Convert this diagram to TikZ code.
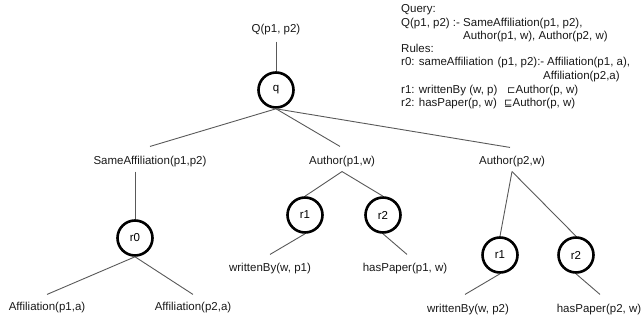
\documentclass[tikz,border=0pt]{standalone}
\usepackage{fontspec}
\setmainfont{Liberation Sans}
\newfontfamily\symfont{DejaVu Sans}
\begin{document}
\begin{tikzpicture}[x=1pt,y=-1pt,
  lbl/.style={font=\fontsize{11.5}{13}\selectfont, inner sep=2pt, text=black!90},
  rule/.style={font=\fontsize{11.5}{13}\selectfont, inner sep=0pt, anchor=base west, text=black!90},
  circ/.style={circle, draw=black, line width=2.6pt, minimum size=35pt, inner sep=0pt, font=\fontsize{11.5}{13}\selectfont},
  edge/.style={draw=black!65, line width=0.9pt}]
\useasboundingbox (0,0) rectangle (642,321);
% tree
\node[lbl] (Q) at (276,30) {Q(p1, p2)};
\node[circ] (q) at (276,90) {q};
\node[lbl] (sa) at (150,162) {SameAffiliation(p1,p2)};
\node[lbl] (a1) at (342,162) {Author(p1,w)};
\node[lbl] (a2) at (512,162) {Author(p2,w)};
\node[circ] (r0) at (135,238) {r0};
\node[lbl] (af1) at (47,308) {Affiliation(p1,a)};
\node[lbl] (af2) at (193,308) {Affiliation(p2,a)};
\node[circ] (r1a) at (305,215) {r1};
\node[circ] (r2a) at (383,215) {r2};
\node[lbl] (wb1) at (270,269) {writtenBy(w, p1)};
\node[lbl] (hp1) at (405,269) {hasPaper(p1, w)};
\node[circ] (r1b) at (500,255) {r1};
\node[circ] (r2b) at (576,255) {r2};
\node[lbl] (wb2) at (468,310) {writtenBy(w, p2)};
\node[lbl] (hp2) at (599,310) {hasPaper(p2, w)};
% connectors
\draw[edge] ([yshift=-4pt]Q.south) -- (q.north);
\draw[edge] (q.south) -- ([yshift=8pt]sa.north);
\draw[edge] (q.south) -- ([xshift=-2pt,yshift=8pt]a1.north);
\draw[edge] (q.south) -- ([xshift=-2pt,yshift=7pt]a2.north);
\draw[edge] ([xshift=-15pt,yshift=-2pt]sa.south) -- (r0.north);
\draw[edge] (r0.south) -- ([yshift=6pt]af1.north);
\draw[edge] (r0.south) -- ([yshift=6pt]af2.north);
\draw[edge] ([yshift=-2pt]a1.south) -- (r1a.north);
\draw[edge] ([yshift=-2pt]a1.south) -- (r2a.north);
\draw[edge] (r1a.south) -- ([yshift=7pt]wb1.north);
\draw[edge] (r2a.south) -- ([xshift=2pt,yshift=7pt]hp1.north);
\draw[edge] ([yshift=-2pt]a2.south) -- (r1b.north);
\draw[edge] ([yshift=-2pt]a2.south) -- (r2b.north);
\draw[edge] (r1b.south) -- ([xshift=-3pt,yshift=8pt]wb2.north);
\draw[edge] (r2b.south) -- ([xshift=1pt,yshift=8pt]hp2.north);
% rules text
\node[rule] (t1) at (401,12.5) {Query:};
\node[rule] (t2) at (401,26.5) {Q(p1, p2) :- SameAffiliation(p1, p2),};
\node[rule] (t3) at (463,39.5) {Author(p1, w), Author(p2, w)};
\node[rule] (t4) at (401,52.5) {Rules:};
\node[rule] (t5) at (401,66) {r0: sameAffiliation\hspace{1pt} (p1, p2):-};
\node[rule] (t5b) at (547,66) {Affiliation(p1, a),};
\node[rule] (t6) at (543,79) {Affiliation(p2,a)};
\node[rule] (t7) at (401,93) {r1: writtenBy (w, p)};
\node[rule] (t7b) at (507,93) {{\symfont\fontsize{10}{12}\selectfont ⊏}Author(p, w)};
\node[rule] (t8) at (401,106) {r2: hasPaper(p, w)};
\node[rule] (t8b) at (504,106) {{\symfont\fontsize{10}{12}\selectfont ⊑}Author(p, w)};
\end{tikzpicture}
\end{document}
